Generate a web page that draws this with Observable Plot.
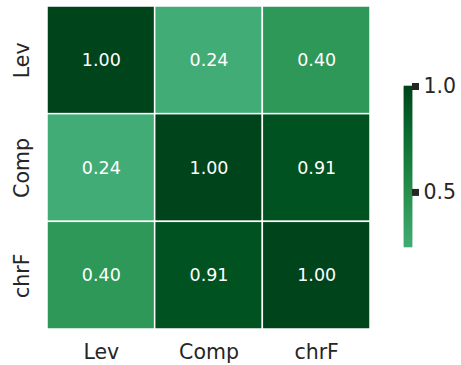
<!DOCTYPE html>
<html>
<head>
<meta charset="utf-8">
<script src="https://cdn.jsdelivr.net/npm/d3@7"></script>
<script src="https://cdn.jsdelivr.net/npm/@observablehq/plot@0.6"></script>
<style>
  html, body { margin: 0; padding: 0; background: #fff; }
  #wrap { position: relative; width: 461px; height: 365px; font-family: "DejaVu Sans", sans-serif; }
  #wrap > div, #wrap > svg { position: absolute; }
</style>
</head>
<body>
<div id="wrap"></div>
<script>
const metrics = ["Lev", "Comp", "chrF"];
const rowLev  = [1.00, 0.24, 0.40];
const rowComp = [0.24, 1.00, 0.91];
const rowChrF = [0.40, 0.91, 1.00];
const colorTicks = [0.5, 1.0];
const colorDomain = [0.24, 1.00];

const rows = [rowLev, rowComp, rowChrF];
const cells = [];
rows.forEach((r, i) => r.forEach((v, j) => cells.push({row: metrics[i], col: metrics[j], value: v})));

const interp = t => d3.interpolateBuGn(0.625 + 0.375 * t);
const ink = "#262626";

const main = Plot.plot({
  width: 461,
  height: 365,
  marginLeft: 47,
  marginRight: 91,
  marginTop: 6,
  marginBottom: 36,
  style: {fontFamily: "DejaVu Sans, sans-serif", background: "transparent"},
  x: {domain: metrics, padding: 0, round: false, axis: null},
  y: {domain: metrics, padding: 0, round: false, axis: null},
  color: {type: "linear", domain: colorDomain, interpolate: () => interp},
  marks: [
    Plot.cell(cells, {x: "col", y: "row", fill: "value", stroke: "white", strokeWidth: 1.5, inset: 0}),
    Plot.text(cells, {x: "col", y: "row", text: d => d.value.toFixed(2), fill: "white", fontSize: 17.5}),
    Plot.text(metrics, {x: d => d, frameAnchor: "bottom", dy: 23, text: d => d, fill: ink, fontSize: 20.5, lineAnchor: "middle"}),
    Plot.text(metrics, {y: d => d, frameAnchor: "left", dx: -25, rotate: -90, text: d => d, fill: ink, fontSize: 20.5, lineAnchor: "middle", textAnchor: "middle"})
  ]
});
main.style.left = "0px";
main.style.top = "0px";
document.getElementById("wrap").appendChild(main);

// colorbar
const N = 160;
const stops = d3.range(0, N + 1).map(i => colorDomain[0] + (colorDomain[1] - colorDomain[0]) * i / N);
const bar = Plot.plot({
  width: 70,
  height: 175,
  marginLeft: 4,
  marginRight: 58,
  marginTop: 8,
  marginBottom: 6,
  style: {fontFamily: "DejaVu Sans, sans-serif", background: "transparent", overflow: "visible"},
  x: {domain: [0, 1], axis: null},
  y: {domain: colorDomain, axis: null},
  color: {type: "linear", domain: colorDomain, interpolate: () => interp},
  marks: [
    Plot.rect(stops.slice(0, -1), {x1: 0, x2: 1, y1: d => d, y2: (d, i) => stops[i + 1], fill: (d, i) => (d + stops[i + 1]) / 2, stroke: (d, i) => (d + stops[i + 1]) / 2, strokeWidth: 0.6, inset: 0}),
    Plot.ruleY(colorTicks, {y: d => d, x1: 1, x2: 1.875, stroke: ink, strokeWidth: 7}),
    Plot.text(colorTicks, {y: d => d, frameAnchor: "right", dx: 11, text: d => d.toFixed(1), fill: ink, fontSize: 20.5, textAnchor: "start"})
  ]
});
bar.style.left = "400px";
bar.style.top = "78px";
document.getElementById("wrap").appendChild(bar);
</script>
</body>
</html>
